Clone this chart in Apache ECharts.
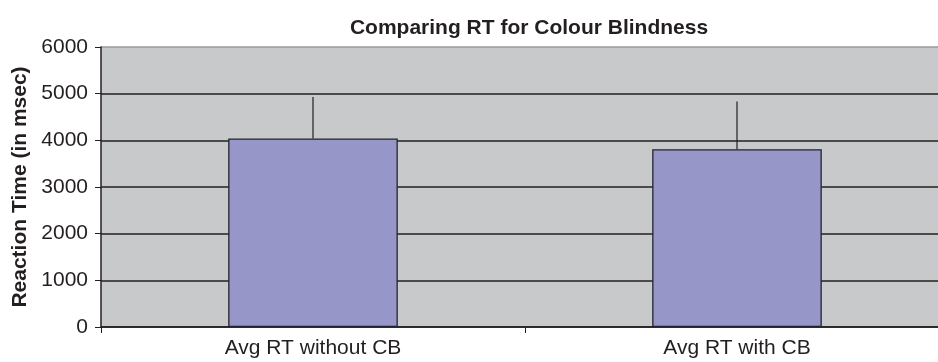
<!DOCTYPE html>
<html>
<head>
<meta charset="utf-8">
<script src="https://cdn.jsdelivr.net/npm/echarts@6/dist/echarts.min.js"></script>
<style>
  html, body { margin: 0; padding: 0; background: #fff; }
  #chart { width: 938px; height: 362px; }
</style>
</head>
<body>
<div id="chart"></div>
<script>
// data
const categories = ['Avg RT without CB', 'Avg RT with CB']
const avgRT = [4040, 3810]
const errorTop = [4930, 4830]
const yTicks = [0, 1000, 2000, 3000, 4000, 5000, 6000]

const chart = echarts.init(document.getElementById('chart'))
const font = '"Liberation Sans", Arial, sans-serif'

const option = {
  animation: false,
  title: {
    text: 'Comparing RT for Colour Blindness',
    left: 524,
    top: 13,
    textAlign: 'center',
    textStyle: { fontFamily: font, fontSize: 21, fontWeight: 'bold', color: '#231f20' }
  },
  grid: {
    left: 101, top: 47, width: 848, height: 280,
    outerBoundsMode: 'none',
    containLabel: false,
    backgroundColor: '#c8c9cb', show: true, borderWidth: 0
  },
  xAxis: {
    type: 'category',
    data: categories,
    boundaryGap: true,
    axisLine: { lineStyle: { color: '#231f20', width: 1.5 } },
    axisTick: { show: true, length: 6, alignWithLabel: false, lineStyle: { color: '#231f20' } },
    axisLabel: { fontFamily: font, fontSize: 21, color: '#231f20', margin: 11 }
  },
  yAxis: {
    type: 'value',
    min: yTicks[0],
    max: yTicks[yTicks.length - 1],
    interval: 1000,
    name: 'Reaction Time (in msec)',
    nameLocation: 'middle',
    nameGap: 69,
    nameRotate: 90,
    nameTextStyle: { fontFamily: font, fontSize: 21, fontWeight: 'bold', color: '#231f20' },
    axisLine: { show: true, lineStyle: { color: '#231f20', width: 1.5 } },
    axisTick: { show: true, length: 6, lineStyle: { color: '#231f20' } },
    axisLabel: { fontFamily: font, fontSize: 21, color: '#231f20', margin: 13, formatter: v => String(v) },
    splitLine: {
      show: true,
      lineStyle: { color: ['#231f20', '#231f20', '#231f20', '#231f20', '#231f20', '#231f20', '#9a9a9a'], width: 1.5 }
    }
  },
  series: [
    {
      name: 'Avg RT',
      type: 'bar',
      data: avgRT,
      barWidth: '40%',
      itemStyle: { color: '#9696c8', borderColor: '#23232f', borderWidth: 1.3 },
      z: 2
    },
    {
      name: 'Error',
      type: 'custom',
      data: avgRT.map((v, i) => [i, v, errorTop[i]]),
      renderItem: (params, api) => {
        const from = api.coord([api.value(0), api.value(1)])
        const to = api.coord([api.value(0), api.value(2)])
        return {
          type: 'line',
          shape: { x1: from[0], y1: from[1], x2: to[0], y2: to[1] },
          style: { stroke: '#231f20', lineWidth: 1.2 }
        }
      },
      z: 3
    }
  ]
}

chart.setOption(option)
</script>
</body>
</html>
